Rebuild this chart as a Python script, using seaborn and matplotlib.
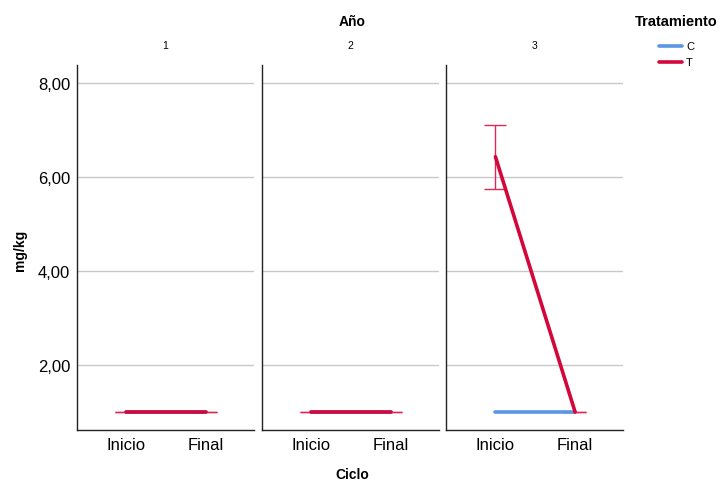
import pandas as pd
import matplotlib.pyplot as plt
import seaborn as sns

# ---------------- DATA ----------------
years = ["1", "2", "3"]
cycles = ["Inicio", "Final"]
treatments = ["C", "T"]

# means per year, [Inicio, Final]
c_mean = [[1.0, 1.0], [1.0, 1.0], [1.0, 1.0]]
t_mean = [[1.0, 1.0], [1.0, 1.0], [6.43, 1.0]]
# error bar limits for T
t_low = [[1.0, 1.0], [1.0, 1.0], [5.74, 1.0]]
t_high = [[1.0, 1.0], [1.0, 1.0], [7.11, 1.0]]

rows = []
for i, yr in enumerate(years):
    for j, cy in enumerate(cycles):
        rows.append({"Año": yr, "Ciclo": cy, "Tratamiento": "C", "mg/kg": c_mean[i][j],
                     "low": c_mean[i][j], "high": c_mean[i][j]})
        rows.append({"Año": yr, "Ciclo": cy, "Tratamiento": "T", "mg/kg": t_mean[i][j],
                     "low": t_low[i][j], "high": t_high[i][j]})
df = pd.DataFrame(rows)

palette = {"C": "#5A96E3", "T": "#D4073A"}

# ---------------- PLOT ----------------
sns.set_style("white")
plt.rcParams["font.family"] = ["Liberation Sans", "DejaVu Sans"]
plt.rcParams["text.color"] = "black"
plt.rcParams["xtick.color"] = "black"
plt.rcParams["ytick.color"] = "black"

fig = plt.figure(figsize=(7.23, 4.81), dpi=100)

lefts = [77, 262, 446]
width = 177
bottom = 1 - 431 / 481
height = (431 - 66) / 481

for k, yr in enumerate(years):
    ax = fig.add_axes([lefts[k] / 723, bottom, width / 723, height])
    sub = df[df["Año"] == yr]
    d = sub[sub["Tratamiento"] == "T"]
    x = [cycles.index(c) for c in d["Ciclo"]]
    y = d["mg/kg"].values
    ax.errorbar(x, y, yerr=[y - d["low"].values, d["high"].values - y],
                fmt="none", ecolor="#DC2A55", elinewidth=1, capsize=8,
                capthick=1, zorder=3)
    sns.lineplot(data=sub, x="Ciclo", y="mg/kg", hue="Tratamiento", hue_order=treatments,
                 palette=palette, linewidth=2.6, errorbar=None, sort=False, ax=ax,
                 legend=False, zorder=4)
    ax.set_xlim(-0.62, 1.6)
    ax.set_ylim(0.62, 8.38)
    ax.set_yticks([2, 4, 6, 8])
    ax.yaxis.grid(True, color="#c8c8c8", linewidth=1)
    ax.set_axisbelow(True)
    ax.set_xticks([0, 1])
    ax.set_xticklabels(cycles, fontsize=12)
    ax.set_xlabel("")
    ax.set_ylabel("")
    for s in ["top", "right"]:
        ax.spines[s].set_visible(False)
    for s in ["left", "bottom"]:
        ax.spines[s].set_color("#222222")
        ax.spines[s].set_linewidth(1)
    ax.tick_params(axis="both", length=0, pad=5)
    if k == 0:
        ax.set_yticklabels([f"{v:.2f}".replace(".", ",") for v in [2, 4, 6, 8]], fontsize=12)
    else:
        ax.set_yticklabels([])
    ax.set_title(yr, fontsize=7.5, pad=12)

fig.text(352 / 723, 1 - 22 / 481, "Año", ha="center", va="center", fontsize=10, fontweight="bold")
fig.text(352 / 723, 1 - 475 / 481, "Ciclo", ha="center", va="center", fontsize=10, fontweight="bold")
fig.text(20 / 723, 1 - 250 / 481, "mg/kg", ha="center", va="center", rotation=90,
         fontsize=10, fontweight="bold")

# legend
fig.text(676 / 723, 1 - 22 / 481, "Tratamiento", ha="center", va="center", fontsize=10.5,
         fontweight="bold")
for tr, yy in zip(treatments, [47, 63]):
    fig.add_artist(plt.Line2D([659 / 723, 682 / 723], [1 - yy / 481, 1 - yy / 481],
                              color=palette[tr], linewidth=2.6))
    fig.text(686 / 723, 1 - yy / 481, tr, ha="left", va="center", fontsize=8)

fig.savefig("out.png", dpi=100)
